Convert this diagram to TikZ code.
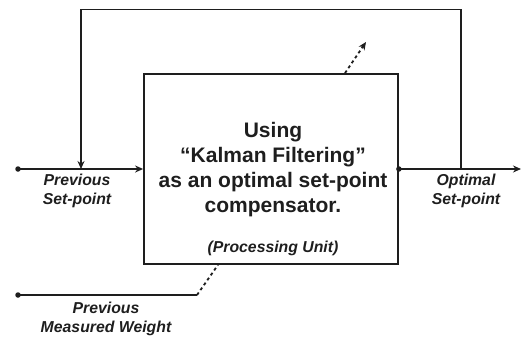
\documentclass[tikz,border=0pt]{standalone}
\usepackage{fontspec}
\setmainfont{Liberation Sans}
\usetikzlibrary{arrows.meta}
\definecolor{ink}{HTML}{1E1E1E}
\begin{document}
\begin{tikzpicture}[x=1pt,y=-1pt,
  wire/.style={draw=ink,line width=1.8pt},
  arr/.style={wire,-{Stealth[length=8pt,width=7pt]}},
  dwire/.style={wire,dash pattern=on 3pt off 3pt},
  dotmark/.style={circle,fill=ink,inner sep=0pt,minimum size=5.5pt},
  procbox/.style={draw=ink,line width=1.8pt,minimum width=254pt,minimum height=190pt,inner sep=0pt},
  maintxt/.style={text=ink,font=\fontsize{21}{25}\selectfont\bfseries,align=center},
  lbl/.style={text=ink,font=\fontsize{15.8}{19.5}\selectfont\bfseries\itshape,align=center}]
\useasboundingbox (0,0) rectangle (527,340);
\node[procbox] (proc) at (271,169) {};
\node[maintxt] (title) at (273,170) {Using\\``Kalman Filtering''\\as an optimal set-point\\compensator.};
\node[lbl] (pu) at (273,248) {(Processing Unit)};
% input
\coordinate (inL) at (18,169);
\draw[arr] (inL) -- (proc.west);
\node[dotmark] (dotin) at (inL) {};
% output
\coordinate (outR) at (521,169);
\draw[arr] (proc.east) -- (outR);
\node[dotmark] (dotout) at (proc.east) {};
% feedback
\coordinate (fbR) at (461,169);
\coordinate (fbTR) at (461,9.5);
\coordinate (fbTL) at (81,9.5);
\coordinate (fbIn) at (81,169);
\draw[arr] (fbR) -- (fbTR) -- (fbTL) -- (fbIn);
% dashed up
\coordinate (dashEnd) at (366,42);
\draw[dwire,-{Stealth[length=8pt,width=7pt]}] ([xshift=74pt]proc.north) -- (dashEnd);
% measured weight
\coordinate (mwL) at (18,295);
\coordinate (mwK) at (197,295);
\draw[wire] (mwL) -- (mwK);
\draw[dwire] (mwK) -- ([xshift=-53pt]proc.south);
\node[dotmark] (dotmw) at (mwL) {};
% labels
\node[lbl] (psp) at (77,191) {Previous\\Set-point};
\node[lbl] (osp) at (466,191) {Optimal\\Set-point};
\node[lbl] (pmw) at (106,319) {Previous\\Measured Weight};
\end{tikzpicture}
\end{document}
